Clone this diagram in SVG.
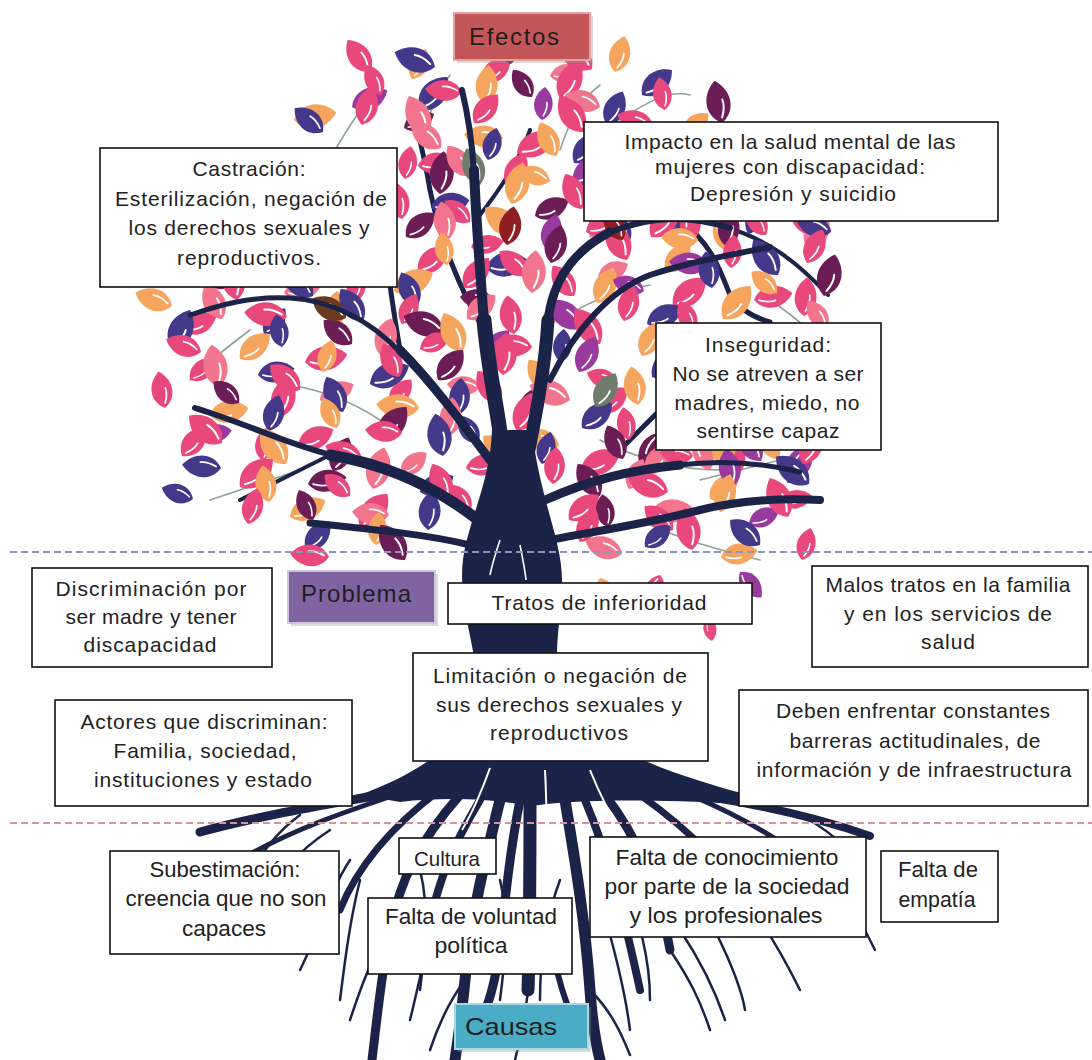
<svg xmlns="http://www.w3.org/2000/svg" width="1092" height="1060" viewBox="0 0 1092 1060">
<style>
.pk{fill:#e9487d}.or{fill:#f5a55e}.nv{fill:#433889}.pl{fill:#6c1d56}.vi{fill:#9a3a9f}.co{fill:#f2758d}.gr{fill:#6f7d6c}.rd{fill:#8e1e22}.br{fill:#6b3a1e}
.tw{fill:none;stroke:#8fa196;stroke-width:1.6;stroke-linecap:round}
.br1{fill:none;stroke:#1c2348;stroke-linecap:round}
.rt{fill:none;stroke:#1c2348;stroke-linecap:round}
.box{fill:#fff;stroke:#111;stroke-width:1.6}
.t{font-family:"Liberation Sans",Arial,sans-serif;font-size:21px;fill:#222;text-anchor:middle}
.tb{font-family:"Liberation Sans",Arial,sans-serif;font-size:22px;fill:#222;text-anchor:middle}
.lab{font-family:"Liberation Sans",Arial,sans-serif;font-size:24px;fill:#1e1e1e;text-anchor:middle}
.div1{stroke:#9094b8;stroke-width:2;stroke-dasharray:7 4;fill:none}
.div2{stroke:#d6939d;stroke-width:2;stroke-dasharray:7 4;fill:none}
</style>
<defs>
<g id="lf"><path d="M0,0 C-15,-9 -14,-28 0,-39 C14,-28 15,-9 0,0Z"/><path d="M1,-5 C4,-11 5,-16 4,-21" fill="none" stroke="#fff" stroke-width="1.8" stroke-linecap="round"/></g>
</defs>
<rect width="1092" height="1060" fill="#fff"/>
<g id="tree">
<g id="twigs">
<path class="tw" d="M330,160 C350,120 370,100 380,80"/>
<path class="tw" d="M420,140 C430,110 440,90 450,75"/>
<path class="tw" d="M560,150 C570,120 580,100 600,85"/>
<path class="tw" d="M620,120 C650,100 670,90 690,95"/>
<path class="tw" d="M250,330 C230,345 210,360 190,380"/>
<path class="tw" d="M300,470 C270,480 240,490 210,500"/>
<path class="tw" d="M600,440 C640,460 680,470 720,470"/>
<path class="tw" d="M700,480 C740,470 780,460 820,450"/>
<path class="tw" d="M380,420 C350,400 320,390 290,385"/>
<path class="tw" d="M560,320 C590,300 620,290 650,285"/>
<path class="tw" d="M770,300 C800,320 820,340 840,360"/>
<path class="tw" d="M640,520 C680,540 720,550 760,560"/>
</g>
<g id="thin-branches">
<path class="br1" stroke-width="5" d="M680,222 C710,240 720,270 730,295 C740,310 755,318 770,322"/>
<path class="br1" stroke-width="5" d="M400,350 C395,320 392,300 390,285"/>
<path class="br1" stroke-width="4" d="M330,455 C300,470 270,485 240,500"/>
<path class="br1" stroke-width="5" d="M600,470 C630,440 650,420 670,400"/>
<path class="br1" stroke-width="5" d="M484,330 C460,290 440,240 430,190 C425,160 420,140 415,120"/>
<path class="br1" stroke-width="4" d="M476,220 C500,190 520,160 530,130"/>
<path class="br1" stroke-width="4" d="M728,228 C770,240 800,265 828,295"/>
</g>
<g id="leaves">
<use href="#lf" class="pk" transform="translate(370 72) rotate(-35)"/>
<use href="#lf" class="or" transform="translate(412 79) rotate(25) scale(.85)"/>
<use href="#lf" class="nv" transform="translate(435 67) rotate(-70) scale(1.1)"/>
<use href="#lf" class="pk" transform="translate(482 82) rotate(50) scale(.95)"/>
<use href="#lf" class="pl" transform="translate(511 64) rotate(-10)"/>
<use href="#lf" class="co" transform="translate(550 76) rotate(80) scale(.85)"/>
<use href="#lf" class="pk" transform="translate(592 69) rotate(-50) scale(1.1)"/>
<use href="#lf" class="or" transform="translate(615 72) rotate(15) scale(.95)"/>
<use href="#lf" class="vi" transform="translate(352 107) rotate(65)"/>
<use href="#lf" class="pk" transform="translate(381 95) rotate(-25) scale(.85)"/>
<use href="#lf" class="nv" transform="translate(420 110) rotate(40) scale(1.1)"/>
<use href="#lf" class="pk" transform="translate(462 92) rotate(-85) scale(.95)"/>
<use href="#lf" class="or" transform="translate(485 104) rotate(5)"/>
<use href="#lf" class="pl" transform="translate(532 97) rotate(-35) scale(.85)"/>
<use href="#lf" class="pk" transform="translate(561 100) rotate(25) scale(1.1)"/>
<use href="#lf" class="co" transform="translate(600 107) rotate(-70) scale(.95)"/>
<use href="#lf" class="nv" transform="translate(642 95) rotate(50)"/>
<use href="#lf" class="pk" transform="translate(665 110) rotate(-10) scale(.85)"/>
<use href="#lf" class="or" transform="translate(294 120) rotate(80) scale(1.1)"/>
<use href="#lf" class="nv" transform="translate(323 132) rotate(-50) scale(.95)"/>
<use href="#lf" class="pk" transform="translate(362 125) rotate(15)"/>
<use href="#lf" class="pl" transform="translate(404 128) rotate(65) scale(.85)"/>
<use href="#lf" class="co" transform="translate(427 135) rotate(-25) scale(1.1)"/>
<use href="#lf" class="pk" transform="translate(474 123) rotate(40) scale(.95)"/>
<use href="#lf" class="or" transform="translate(503 138) rotate(-85)"/>
<use href="#lf" class="vi" transform="translate(542 120) rotate(5) scale(.85)"/>
<use href="#lf" class="pk" transform="translate(584 132) rotate(-35) scale(1.1)"/>
<use href="#lf" class="nv" transform="translate(607 125) rotate(25) scale(.95)"/>
<use href="#lf" class="pk" transform="translate(654 128) rotate(-70)"/>
<use href="#lf" class="or" transform="translate(683 135) rotate(50) scale(.85)"/>
<use href="#lf" class="pl" transform="translate(722 123) rotate(-10) scale(1.1)"/>
<use href="#lf" class="pk" transform="translate(418 166) rotate(80) scale(.95)"/>
<use href="#lf" class="co" transform="translate(441 148) rotate(-50)"/>
<use href="#lf" class="nv" transform="translate(488 160) rotate(15) scale(.85)"/>
<use href="#lf" class="pk" transform="translate(517 153) rotate(65) scale(1.1)"/>
<use href="#lf" class="or" transform="translate(556 156) rotate(-25) scale(.95)"/>
<use href="#lf" class="nv" transform="translate(574 163) rotate(40)"/>
<use href="#lf" class="pk" transform="translate(405 179) rotate(10) scale(.85)"/>
<use href="#lf" class="pl" transform="translate(440 194) rotate(5) scale(1.1)"/>
<use href="#lf" class="co" transform="translate(469 176) rotate(-35) scale(.95)"/>
<use href="#lf" class="pk" transform="translate(508 188) rotate(25)"/>
<use href="#lf" class="or" transform="translate(550 181) rotate(-70) scale(.85)"/>
<use href="#lf" class="vi" transform="translate(573 184) rotate(50) scale(1.1)"/>
<use href="#lf" class="pk" transform="translate(402 219) rotate(-10) scale(.95)"/>
<use href="#lf" class="nv" transform="translate(431 207) rotate(80)"/>
<use href="#lf" class="pk" transform="translate(470 222) rotate(-50) scale(.85)"/>
<use href="#lf" class="or" transform="translate(512 204) rotate(15) scale(1.1)"/>
<use href="#lf" class="pl" transform="translate(535 216) rotate(65) scale(.95)"/>
<use href="#lf" class="pk" transform="translate(582 209) rotate(-25)"/>
<use href="#lf" class="co" transform="translate(611 212) rotate(220) scale(.85)"/>
<use href="#lf" class="nv" transform="translate(650 219) rotate(95) scale(1.1)"/>
<use href="#lf" class="pk" transform="translate(692 207) rotate(185) scale(.95)"/>
<use href="#lf" class="or" transform="translate(715 222) rotate(145)"/>
<use href="#lf" class="nv" transform="translate(762 204) rotate(205) scale(.85)"/>
<use href="#lf" class="pk" transform="translate(791 216) rotate(110) scale(1.1)"/>
<use href="#lf" class="pl" transform="translate(406 237) rotate(50) scale(.95)"/>
<use href="#lf" class="co" transform="translate(448 240) rotate(-10)"/>
<use href="#lf" class="pk" transform="translate(471 247) rotate(80) scale(.85)"/>
<use href="#lf" class="or" transform="translate(518 235) rotate(-50) scale(1.1)"/>
<use href="#lf" class="vi" transform="translate(547 250) rotate(15) scale(.95)"/>
<use href="#lf" class="pk" transform="translate(586 232) rotate(65)"/>
<use href="#lf" class="nv" transform="translate(628 244) rotate(-25) scale(.85)"/>
<use href="#lf" class="pk" transform="translate(651 237) rotate(40) scale(1.1)"/>
<use href="#lf" class="or" transform="translate(698 240) rotate(-85) scale(.95)"/>
<use href="#lf" class="pl" transform="translate(727 247) rotate(5)"/>
<use href="#lf" class="pk" transform="translate(766 235) rotate(-35) scale(.85)"/>
<use href="#lf" class="co" transform="translate(808 250) rotate(25) scale(1.1)"/>
<use href="#lf" class="nv" transform="translate(831 232) rotate(-70) scale(.95)"/>
<use href="#lf" class="pk" transform="translate(418 272) rotate(50)"/>
<use href="#lf" class="or" transform="translate(447 265) rotate(-10) scale(.85)"/>
<use href="#lf" class="nv" transform="translate(486 268) rotate(80) scale(1.1)"/>
<use href="#lf" class="pk" transform="translate(528 275) rotate(-50) scale(.95)"/>
<use href="#lf" class="pl" transform="translate(551 263) rotate(15)"/>
<use href="#lf" class="co" transform="translate(598 278) rotate(65) scale(.85)"/>
<use href="#lf" class="pk" transform="translate(627 260) rotate(-25) scale(1.1)"/>
<use href="#lf" class="or" transform="translate(666 272) rotate(40) scale(.95)"/>
<use href="#lf" class="vi" transform="translate(708 265) rotate(-85)"/>
<use href="#lf" class="pk" transform="translate(731 268) rotate(5) scale(.85)"/>
<use href="#lf" class="nv" transform="translate(778 275) rotate(-35) scale(1.1)"/>
<use href="#lf" class="pk" transform="translate(807 263) rotate(25) scale(.95)"/>
<use href="#lf" class="or" transform="translate(172 306) rotate(-70)"/>
<use href="#lf" class="pl" transform="translate(214 288) rotate(50) scale(.85)"/>
<use href="#lf" class="pk" transform="translate(237 300) rotate(-10) scale(1.1)"/>
<use href="#lf" class="co" transform="translate(284 293) rotate(80) scale(.95)"/>
<use href="#lf" class="nv" transform="translate(313 296) rotate(-50)"/>
<use href="#lf" class="pk" transform="translate(352 303) rotate(15) scale(.85)"/>
<use href="#lf" class="or" transform="translate(394 291) rotate(65) scale(1.1)"/>
<use href="#lf" class="nv" transform="translate(417 306) rotate(-25) scale(.95)"/>
<use href="#lf" class="pk" transform="translate(464 288) rotate(40)"/>
<use href="#lf" class="pl" transform="translate(493 300) rotate(-85) scale(.85)"/>
<use href="#lf" class="co" transform="translate(532 293) rotate(5) scale(1.1)"/>
<use href="#lf" class="pk" transform="translate(574 296) rotate(-35) scale(.95)"/>
<use href="#lf" class="or" transform="translate(597 303) rotate(25)"/>
<use href="#lf" class="vi" transform="translate(644 291) rotate(-70) scale(.85)"/>
<use href="#lf" class="pk" transform="translate(673 306) rotate(50) scale(1.1)"/>
<use href="#lf" class="nv" transform="translate(712 288) rotate(-10) scale(.95)"/>
<use href="#lf" class="pk" transform="translate(754 300) rotate(80)"/>
<use href="#lf" class="or" transform="translate(777 293) rotate(-50) scale(.85)"/>
<use href="#lf" class="pl" transform="translate(824 296) rotate(15) scale(1.1)"/>
<use href="#lf" class="pk" transform="translate(183 331) rotate(65) scale(.95)"/>
<use href="#lf" class="co" transform="translate(222 319) rotate(-25)"/>
<use href="#lf" class="nv" transform="translate(264 334) rotate(40) scale(.85)"/>
<use href="#lf" class="pk" transform="translate(287 316) rotate(-85) scale(1.1)"/>
<use href="#lf" class="or" transform="translate(334 328) rotate(5) scale(.95)"/>
<use href="#lf" class="nv" transform="translate(363 321) rotate(-35)"/>
<use href="#lf" class="pk" transform="translate(402 324) rotate(25) scale(.85)"/>
<use href="#lf" class="pl" transform="translate(444 331) rotate(-70) scale(1.1)"/>
<use href="#lf" class="co" transform="translate(467 319) rotate(50) scale(.95)"/>
<use href="#lf" class="pk" transform="translate(514 334) rotate(-10)"/>
<use href="#lf" class="or" transform="translate(543 316) rotate(80) scale(.85)"/>
<use href="#lf" class="vi" transform="translate(582 328) rotate(-50) scale(1.1)"/>
<use href="#lf" class="pk" transform="translate(624 321) rotate(15) scale(.95)"/>
<use href="#lf" class="nv" transform="translate(647 324) rotate(65)"/>
<use href="#lf" class="pk" transform="translate(694 331) rotate(-25) scale(.85)"/>
<use href="#lf" class="or" transform="translate(723 319) rotate(40) scale(1.1)"/>
<use href="#lf" class="pk" transform="translate(804 316) rotate(5)"/>
<use href="#lf" class="co" transform="translate(827 328) rotate(-35) scale(.85)"/>
<use href="#lf" class="nv" transform="translate(172 349) rotate(25) scale(1.1)"/>
<use href="#lf" class="pk" transform="translate(201 352) rotate(-70) scale(.95)"/>
<use href="#lf" class="or" transform="translate(240 359) rotate(50)"/>
<use href="#lf" class="nv" transform="translate(282 347) rotate(-10) scale(.85)"/>
<use href="#lf" class="pk" transform="translate(305 362) rotate(80) scale(1.1)"/>
<use href="#lf" class="pl" transform="translate(352 344) rotate(-50) scale(.95)"/>
<use href="#lf" class="co" transform="translate(381 356) rotate(15)"/>
<use href="#lf" class="pk" transform="translate(420 349) rotate(65) scale(.85)"/>
<use href="#lf" class="or" transform="translate(462 352) rotate(-25) scale(1.1)"/>
<use href="#lf" class="vi" transform="translate(485 359) rotate(40) scale(.95)"/>
<use href="#lf" class="pk" transform="translate(532 347) rotate(-85)"/>
<use href="#lf" class="nv" transform="translate(561 362) rotate(5) scale(.85)"/>
<use href="#lf" class="pk" transform="translate(600 344) rotate(-35) scale(1.1)"/>
<use href="#lf" class="or" transform="translate(642 356) rotate(25) scale(.95)"/>
<use href="#lf" class="pk" transform="translate(190 380) rotate(50) scale(.85)"/>
<use href="#lf" class="co" transform="translate(219 387) rotate(-10) scale(1.1)"/>
<use href="#lf" class="nv" transform="translate(258 375) rotate(80) scale(.95)"/>
<use href="#lf" class="pk" transform="translate(300 390) rotate(-50)"/>
<use href="#lf" class="or" transform="translate(323 372) rotate(15) scale(.85)"/>
<use href="#lf" class="nv" transform="translate(370 384) rotate(65) scale(1.1)"/>
<use href="#lf" class="pk" transform="translate(399 377) rotate(-25) scale(.95)"/>
<use href="#lf" class="pl" transform="translate(438 380) rotate(40)"/>
<use href="#lf" class="co" transform="translate(480 387) rotate(-85) scale(.85)"/>
<use href="#lf" class="pk" transform="translate(503 375) rotate(5) scale(1.1)"/>
<use href="#lf" class="or" transform="translate(550 390) rotate(-35) scale(.95)"/>
<use href="#lf" class="vi" transform="translate(579 372) rotate(25)"/>
<use href="#lf" class="pk" transform="translate(618 384) rotate(-70) scale(.85)"/>
<use href="#lf" class="nv" transform="translate(652 377) rotate(50) scale(1.1)"/>
<use href="#lf" class="pk" transform="translate(165 408) rotate(-10) scale(.95)"/>
<use href="#lf" class="or" transform="translate(210 415) rotate(80)"/>
<use href="#lf" class="pl" transform="translate(239 403) rotate(-50) scale(.85)"/>
<use href="#lf" class="pk" transform="translate(278 418) rotate(15) scale(1.1)"/>
<use href="#lf" class="co" transform="translate(320 400) rotate(65) scale(.95)"/>
<use href="#lf" class="nv" transform="translate(343 412) rotate(-25)"/>
<use href="#lf" class="pk" transform="translate(390 405) rotate(40) scale(.85)"/>
<use href="#lf" class="or" transform="translate(419 408) rotate(-85) scale(1.1)"/>
<use href="#lf" class="nv" transform="translate(458 415) rotate(5) scale(.95)"/>
<use href="#lf" class="pk" transform="translate(500 403) rotate(-35)"/>
<use href="#lf" class="pl" transform="translate(523 418) rotate(25) scale(.85)"/>
<use href="#lf" class="co" transform="translate(570 400) rotate(-70) scale(1.1)"/>
<use href="#lf" class="pk" transform="translate(599 412) rotate(50) scale(.95)"/>
<use href="#lf" class="or" transform="translate(638 405) rotate(-10)"/>
<use href="#lf" class="vi" transform="translate(199 436) rotate(80) scale(.85)"/>
<use href="#lf" class="pk" transform="translate(222 443) rotate(-50) scale(1.1)"/>
<use href="#lf" class="nv" transform="translate(269 431) rotate(15) scale(.95)"/>
<use href="#lf" class="pk" transform="translate(298 446) rotate(65)"/>
<use href="#lf" class="or" transform="translate(337 428) rotate(-25) scale(.85)"/>
<use href="#lf" class="pl" transform="translate(379 440) rotate(40) scale(1.1)"/>
<use href="#lf" class="pk" transform="translate(402 433) rotate(-85) scale(.95)"/>
<use href="#lf" class="co" transform="translate(449 436) rotate(5)"/>
<use href="#lf" class="nv" transform="translate(478 443) rotate(-35) scale(.85)"/>
<use href="#lf" class="pk" transform="translate(517 431) rotate(25) scale(1.1)"/>
<use href="#lf" class="or" transform="translate(559 446) rotate(-70) scale(.95)"/>
<use href="#lf" class="nv" transform="translate(582 428) rotate(50)"/>
<use href="#lf" class="pk" transform="translate(629 440) rotate(-10) scale(.85)"/>
<use href="#lf" class="pl" transform="translate(658 433) rotate(200) scale(1.1)"/>
<use href="#lf" class="co" transform="translate(697 436) rotate(160) scale(.95)"/>
<use href="#lf" class="pk" transform="translate(739 443) rotate(195)"/>
<use href="#lf" class="or" transform="translate(762 431) rotate(150) scale(.85)"/>
<use href="#lf" class="vi" transform="translate(809 446) rotate(210) scale(1.1)"/>
<use href="#lf" class="pk" transform="translate(182 456) rotate(40) scale(.95)"/>
<use href="#lf" class="nv" transform="translate(221 468) rotate(-85)"/>
<use href="#lf" class="pk" transform="translate(263 461) rotate(5) scale(.85)"/>
<use href="#lf" class="or" transform="translate(286 464) rotate(-35) scale(1.1)"/>
<use href="#lf" class="pl" transform="translate(333 471) rotate(25) scale(.95)"/>
<use href="#lf" class="pk" transform="translate(362 459) rotate(-70)"/>
<use href="#lf" class="co" transform="translate(401 474) rotate(50) scale(.85)"/>
<use href="#lf" class="nv" transform="translate(443 456) rotate(-10) scale(1.1)"/>
<use href="#lf" class="pk" transform="translate(466 468) rotate(80) scale(.95)"/>
<use href="#lf" class="or" transform="translate(513 461) rotate(-50)"/>
<use href="#lf" class="nv" transform="translate(542 464) rotate(15) scale(.85)"/>
<use href="#lf" class="pk" transform="translate(581 471) rotate(65) scale(1.1)"/>
<use href="#lf" class="pl" transform="translate(623 459) rotate(-25) scale(.95)"/>
<use href="#lf" class="co" transform="translate(646 474) rotate(40)"/>
<use href="#lf" class="pk" transform="translate(693 456) rotate(-85) scale(.85)"/>
<use href="#lf" class="or" transform="translate(722 468) rotate(5) scale(1.1)"/>
<use href="#lf" class="vi" transform="translate(761 461) rotate(-35) scale(.95)"/>
<use href="#lf" class="pk" transform="translate(803 464) rotate(25)"/>
<use href="#lf" class="nv" transform="translate(193 499) rotate(-70) scale(.85)"/>
<use href="#lf" class="pk" transform="translate(240 487) rotate(50) scale(1.1)"/>
<use href="#lf" class="or" transform="translate(269 502) rotate(-10) scale(.95)"/>
<use href="#lf" class="pl" transform="translate(308 484) rotate(80)"/>
<use href="#lf" class="pk" transform="translate(350 496) rotate(-50) scale(.85)"/>
<use href="#lf" class="co" transform="translate(373 489) rotate(15) scale(1.1)"/>
<use href="#lf" class="nv" transform="translate(420 492) rotate(65) scale(.95)"/>
<use href="#lf" class="pk" transform="translate(449 499) rotate(-25)"/>
<use href="#lf" class="or" transform="translate(488 487) rotate(40) scale(.85)"/>
<use href="#lf" class="nv" transform="translate(530 502) rotate(-85) scale(1.1)"/>
<use href="#lf" class="pk" transform="translate(553 484) rotate(5) scale(.95)"/>
<use href="#lf" class="pl" transform="translate(600 496) rotate(-35)"/>
<use href="#lf" class="co" transform="translate(629 489) rotate(25) scale(.85)"/>
<use href="#lf" class="pk" transform="translate(668 492) rotate(-70) scale(1.1)"/>
<use href="#lf" class="or" transform="translate(710 499) rotate(50) scale(.95)"/>
<use href="#lf" class="vi" transform="translate(733 487) rotate(-10)"/>
<use href="#lf" class="pk" transform="translate(780 502) rotate(80) scale(.85)"/>
<use href="#lf" class="nv" transform="translate(809 484) rotate(-50) scale(1.1)"/>
<use href="#lf" class="pk" transform="translate(248 524) rotate(15) scale(.95)"/>
<use href="#lf" class="or" transform="translate(290 517) rotate(65)"/>
<use href="#lf" class="pl" transform="translate(313 520) rotate(-25) scale(.85)"/>
<use href="#lf" class="pk" transform="translate(360 527) rotate(40) scale(1.1)"/>
<use href="#lf" class="co" transform="translate(389 515) rotate(-85) scale(.95)"/>
<use href="#lf" class="nv" transform="translate(428 530) rotate(5)"/>
<use href="#lf" class="pk" transform="translate(470 512) rotate(-35) scale(.85)"/>
<use href="#lf" class="or" transform="translate(493 524) rotate(25) scale(1.1)"/>
<use href="#lf" class="nv" transform="translate(540 517) rotate(-70) scale(.95)"/>
<use href="#lf" class="pk" transform="translate(569 520) rotate(50)"/>
<use href="#lf" class="pl" transform="translate(608 527) rotate(-10) scale(.85)"/>
<use href="#lf" class="co" transform="translate(650 515) rotate(80) scale(1.1)"/>
<use href="#lf" class="pk" transform="translate(673 530) rotate(-50) scale(.95)"/>
<use href="#lf" class="or" transform="translate(720 512) rotate(15)"/>
<use href="#lf" class="vi" transform="translate(749 524) rotate(65) scale(.85)"/>
<use href="#lf" class="pk" transform="translate(788 517) rotate(-25) scale(1.1)"/>
<use href="#lf" class="nv" transform="translate(306 550) rotate(40) scale(.95)"/>
<use href="#lf" class="pk" transform="translate(329 557) rotate(-85)"/>
<use href="#lf" class="or" transform="translate(376 545) rotate(5) scale(.85)"/>
<use href="#lf" class="pl" transform="translate(405 560) rotate(-35) scale(1.1)"/>
<use href="#lf" class="pk" transform="translate(580 542) rotate(25) scale(.95)"/>
<use href="#lf" class="co" transform="translate(622 554) rotate(-70)"/>
<use href="#lf" class="nv" transform="translate(645 547) rotate(50) scale(.85)"/>
<use href="#lf" class="pk" transform="translate(692 550) rotate(-10) scale(1.1)"/>
<use href="#lf" class="or" transform="translate(721 557) rotate(80) scale(.95)"/>
<use href="#lf" class="nv" transform="translate(760 545) rotate(-50)"/>
<use href="#lf" class="pk" transform="translate(802 560) rotate(15) scale(.85)"/>
<use href="#lf" class="or" transform="translate(600 578) rotate(160) scale(.9)"/>
<use href="#lf" class="pk" transform="translate(660 575) rotate(200) scale(.9)"/>
<use href="#lf" class="vi" transform="translate(740 572) rotate(140) scale(.85)"/>
<use href="#lf" class="pk" transform="translate(708 618) rotate(170) scale(.6)"/>
<use href="#lf" class="gr" transform="translate(480 185) rotate(-20)"/>
<use href="#lf" class="rd" transform="translate(507 245) rotate(10)"/>
<use href="#lf" class="br" transform="translate(346 318) rotate(-60)"/>
<use href="#lf" class="gr" transform="translate(596 407) rotate(30)"/>
<use href="#lf" class="rd" transform="translate(623 240) rotate(-30) scale(.9)"/>
</g>
<g id="branches">
<path class="br1" stroke-width="15" d="M505,470 C500,420 488,370 484,320"/>
<path class="br1" stroke-width="10" d="M484,322 C480,270 476,220 474,170"/>
<path class="br1" stroke-width="6" d="M474,172 C472,140 468,115 462,90"/>
<path class="br1" stroke-width="13" d="M525,470 C535,420 545,370 548,320"/>
<path class="br1" stroke-width="9" d="M548,322 C552,280 575,250 610,232"/>
<path class="br1" stroke-width="6" d="M608,233 C650,215 690,215 730,228"/>
<path class="br1" stroke-width="6" d="M550,380 C575,330 610,290 650,275 C690,262 730,255 770,247"/>
<path class="br1" stroke-width="9" d="M490,460 C460,420 430,380 400,350"/>
<path class="br1" stroke-width="5" d="M400,352 C370,320 330,300 290,298 C250,296 220,305 190,315"/>
<path class="br1" stroke-width="11" d="M478,520 C440,490 390,465 330,455"/>
<path class="br1" stroke-width="6" d="M332,455 C290,445 250,425 195,408"/>
<path class="br1" stroke-width="7" d="M470,545 C430,535 380,530 310,523"/>
<path class="br1" stroke-width="9" d="M545,500 C590,480 630,470 680,465"/>
<path class="br1" stroke-width="5" d="M678,465 C720,460 760,462 800,472"/>
<path class="br1" stroke-width="8" d="M550,540 C590,532 640,525 700,510 C740,500 780,498 820,500"/>
</g>
<g id="trunk">
<path fill="#1c2348" d="M492,430 C490,490 462,530 462,575 C462,620 478,650 476,690 C472,730 440,765 360,795 L400,802 C450,796 500,800 530,806 C570,800 640,798 740,804 L760,798 C650,770 570,735 560,690 C552,650 562,620 562,580 C562,540 540,500 532,430 Z"/>
<path fill="none" stroke="#fff" stroke-width="1.6" d="M500,540 C495,555 492,565 490,575"/>
<path fill="none" stroke="#fff" stroke-width="1.6" d="M520,545 C523,560 525,570 526,580"/>
</g>
<g id="roots">
<path class="rt" stroke-width="9" d="M430,785 C360,800 280,810 200,832"/>
<path class="rt" stroke-width="8" d="M660,790 C740,800 810,815 870,836"/>
<path class="rt" stroke-width="9" d="M460,795 C420,840 400,880 390,930 C382,970 378,1010 372,1060"/>
<path class="rt" stroke-width="11" d="M500,800 C485,860 470,920 465,980 C462,1010 458,1040 455,1060"/>
<path class="rt" stroke-width="13" d="M530,800 C530,860 530,930 528,990"/>
<path class="rt" stroke-width="11" d="M565,800 C575,860 585,920 590,990 C592,1020 595,1040 600,1060"/>
<path class="rt" stroke-width="9" d="M605,795 C640,840 660,890 670,950"/>
<path class="rt" stroke-width="7" d="M640,795 C690,830 730,870 760,920"/>
<path class="rt" stroke-width="7" d="M440,790 C400,820 360,860 340,910"/>
<path class="rt" stroke-width="5" d="M690,795 C750,820 800,850 840,890"/>
<path class="rt" stroke-width="5" d="M410,790 C350,810 290,830 240,860"/>
<path class="rt" stroke-width="8" d="M480,800 C450,850 440,880 430,920"/>
<path class="rt" stroke-width="9" d="M520,800 C510,850 505,900 500,950 C495,980 490,1000 485,1010"/>
<path class="rt" stroke-width="8" d="M585,800 C610,860 625,920 640,990"/>
<path class="rt" stroke-width="6" d="M555,960 C560,990 570,1010 580,1040"/>
<path class="rt" stroke-width="2.5" d="M350,860 C330,890 320,930 300,970"/>
<path class="rt" stroke-width="2.5" d="M390,930 C370,960 360,990 350,1020"/>
<path class="rt" stroke-width="2.5" d="M465,980 C450,1000 440,1020 430,1050"/>
<path class="rt" stroke-width="2.5" d="M528,990 C525,1020 520,1040 515,1060"/>
<path class="rt" stroke-width="2.5" d="M590,990 C610,1010 620,1030 630,1055"/>
<path class="rt" stroke-width="2.5" d="M670,950 C690,980 700,1000 710,1030"/>
<path class="rt" stroke-width="2.5" d="M760,920 C780,950 790,970 800,990"/>
<path class="rt" stroke-width="2.5" d="M840,890 C855,910 865,930 875,950"/>
<path class="rt" stroke-width="2.5" d="M240,860 C220,880 210,900 200,920"/>
<path class="rt" stroke-width="2.5" d="M300,815 C280,830 260,850 250,880"/>
<path class="rt" stroke-width="2.5" d="M800,815 C830,830 850,850 865,870"/>
<path class="rt" stroke-width="2.5" d="M700,900 C720,940 740,980 745,1010"/>
<path class="rt" stroke-width="2.5" d="M560,880 C545,920 540,960 540,1000"/>
<path class="rt" stroke-width="2.5" d="M500,880 C510,920 505,960 500,1000"/>
<path class="rt" stroke-width="2.5" d="M420,870 C430,910 425,950 420,990"/>
<path class="rt" stroke-width="2.5" d="M620,870 C640,920 650,960 650,1000"/>
<path class="rt" stroke-width="2.5" d="M360,880 C350,920 345,960 340,1000"/>
<path class="rt" stroke-width="2.5" d="M440,890 C430,930 420,980 410,1020"/>
<path class="rt" stroke-width="2.5" d="M600,900 C615,950 625,990 630,1030"/>
<path class="rt" stroke-width="2.5" d="M680,930 C700,960 715,990 725,1020"/>
<path class="rt" stroke-width="2.5" d="M330,830 C300,850 280,870 270,900"/>
<path class="rt" stroke-width="2.5" d="M760,840 C790,860 810,880 830,910"/>
<path fill="none" stroke="#fff" stroke-width="2" d="M490,768 C482,790 474,810 462,830"/>
<path fill="none" stroke="#fff" stroke-width="2" d="M545,770 C546,790 547,810 546,830"/>
<path fill="none" stroke="#fff" stroke-width="2" d="M590,770 C600,795 610,815 622,832"/>
</g>
</g>
<g id="dividers">
<line class="div1" x1="10" y1="552" x2="1092" y2="552"/>
<line class="div2" x1="10" y1="823" x2="1092" y2="823"/>
</g>
<g id="efectos">
<rect x="457" y="16" width="136" height="47" fill="#999" opacity=".35"/>
<rect x="454" y="13" width="136" height="47" fill="#c4565a" stroke="#dea3a3" stroke-width="2"/>
<text class="lab" x="514" y="45" textLength="90" lengthAdjust="spacing">Efectos</text>
</g>
<g id="problema">
<rect x="291" y="574" width="147" height="52" fill="#999" opacity=".35"/>
<rect x="288" y="571" width="147" height="52" fill="#8064a2" stroke="#cfc6dd" stroke-width="2"/>
<text class="lab" x="356" y="602" textLength="110" lengthAdjust="spacing">Problema</text>
</g>
<g id="causas">
<rect x="458" y="1007" width="133" height="45" fill="#999" opacity=".35"/>
<rect x="455" y="1004" width="133" height="45" fill="#4bacc6" stroke="#a9d8e4" stroke-width="2"/>
<text class="lab" font-size="23" x="511" y="1035" textLength="92" lengthAdjust="spacingAndGlyphs">Causas</text>
</g>
<g id="castracion">
<rect class="box" x="100" y="148" width="297" height="139"/>
<text class="t" x="249" y="176" textLength="113" lengthAdjust="spacing">Castración:</text>
<text class="t" x="251" y="206" textLength="272" lengthAdjust="spacing">Esterilización, negación de</text>
<text class="t" x="249" y="235" textLength="241" lengthAdjust="spacing">los derechos sexuales y</text>
<text class="t" x="249" y="265" textLength="144" lengthAdjust="spacing">reproductivos.</text>
</g>
<g id="impacto">
<rect class="box" x="584" y="122" width="414" height="99"/>
<text class="t" x="790" y="149" textLength="331" lengthAdjust="spacing">Impacto en la salud mental de las</text>
<text class="t" x="790" y="174" textLength="270" lengthAdjust="spacing">mujeres con discapacidad:</text>
<text class="t" x="793" y="201" textLength="206" lengthAdjust="spacing">Depresión y suicidio</text>
</g>
<g id="inseguridad">
<rect class="box" x="656" y="323" width="225" height="127"/>
<text class="t" x="768" y="352" textLength="126" lengthAdjust="spacing">Inseguridad:</text>
<text class="t" x="768" y="381" textLength="191" lengthAdjust="spacing">No se atreven a ser</text>
<text class="t" x="767" y="410" textLength="185" lengthAdjust="spacing">madres, miedo, no</text>
<text class="t" x="768" y="438" textLength="143" lengthAdjust="spacing">sentirse capaz</text>
</g>
<g id="discriminacion">
<rect class="box" x="32" y="568" width="240" height="99"/>
<text class="t" x="151" y="596" textLength="191" lengthAdjust="spacing">Discriminación por</text>
<text class="t" x="151" y="624" textLength="171" lengthAdjust="spacing">ser madre y tener</text>
<text class="t" x="150" y="652" textLength="133" lengthAdjust="spacing">discapacidad</text>
</g>
<g id="tratos">
<rect class="box" x="448" y="583" width="304" height="41"/>
<text class="t" x="599" y="610" textLength="215" lengthAdjust="spacing">Tratos de inferioridad</text>
</g>
<g id="malos-tratos">
<rect class="box" x="812" y="566" width="276" height="101"/>
<text class="t" x="948" y="592" textLength="245" lengthAdjust="spacing">Malos tratos en la familia</text>
<text class="t" x="948" y="621" textLength="208" lengthAdjust="spacing">y en los servicios de</text>
<text class="t" x="948" y="649" textLength="54" lengthAdjust="spacing">salud</text>
</g>
<g id="limitacion">
<rect class="box" x="413" y="653" width="295" height="108"/>
<text class="t" x="560" y="683" textLength="254" lengthAdjust="spacing">Limitación o negación de</text>
<text class="t" x="559" y="712" textLength="246" lengthAdjust="spacing">sus derechos sexuales y</text>
<text class="t" x="559" y="740" textLength="138" lengthAdjust="spacing">reproductivos</text>
</g>
<g id="actores">
<rect class="box" x="55" y="700" width="297" height="106"/>
<text class="t" x="204" y="729" textLength="247" lengthAdjust="spacing">Actores que discriminan:</text>
<text class="t" x="205" y="758" textLength="183" lengthAdjust="spacing">Familia, sociedad,</text>
<text class="t" x="203" y="787" textLength="218" lengthAdjust="spacing">instituciones y estado</text>
</g>
<g id="barreras">
<rect class="box" x="739" y="690" width="349" height="116"/>
<text class="t" x="913" y="718" textLength="274" lengthAdjust="spacing">Deben enfrentar constantes</text>
<text class="t" x="915" y="748" textLength="251" lengthAdjust="spacing">barreras actitudinales, de</text>
<text class="t" x="914" y="777" textLength="315" lengthAdjust="spacing">información y de infraestructura</text>
</g>
<g id="subestimacion">
<rect class="box" x="110" y="851" width="229" height="103"/>
<text class="tb" x="225" y="877" textLength="151" lengthAdjust="spacingAndGlyphs">Subestimación:</text>
<text class="tb" x="226" y="906" textLength="201" lengthAdjust="spacingAndGlyphs">creencia que no son</text>
<text class="tb" x="224" y="936" textLength="84" lengthAdjust="spacingAndGlyphs">capaces</text>
</g>
<g id="cultura">
<rect class="box" x="399" y="838" width="97" height="36"/>
<text class="t" font-size="17" x="447" y="866" textLength="66" lengthAdjust="spacingAndGlyphs">Cultura</text>
</g>
<g id="voluntad">
<rect class="box" x="368" y="898" width="204" height="76"/>
<text class="tb" x="471" y="924" textLength="172" lengthAdjust="spacingAndGlyphs">Falta de voluntad</text>
<text class="tb" x="471" y="953" textLength="73" lengthAdjust="spacingAndGlyphs">política</text>
</g>
<g id="conocimiento">
<rect class="box" x="590" y="837" width="276" height="100"/>
<text class="tb" x="727" y="865" textLength="223" lengthAdjust="spacingAndGlyphs">Falta de conocimiento</text>
<text class="tb" x="727" y="894" textLength="245" lengthAdjust="spacingAndGlyphs">por parte de la sociedad</text>
<text class="tb" x="726" y="923" textLength="193" lengthAdjust="spacingAndGlyphs">y los profesionales</text>
</g>
<g id="empatia">
<rect class="box" x="881" y="851" width="117" height="71"/>
<text class="tb" x="938" y="877" textLength="80" lengthAdjust="spacingAndGlyphs">Falta de</text>
<text class="tb" x="937" y="907" textLength="77" lengthAdjust="spacingAndGlyphs">empatía</text>
</g>
</svg>
